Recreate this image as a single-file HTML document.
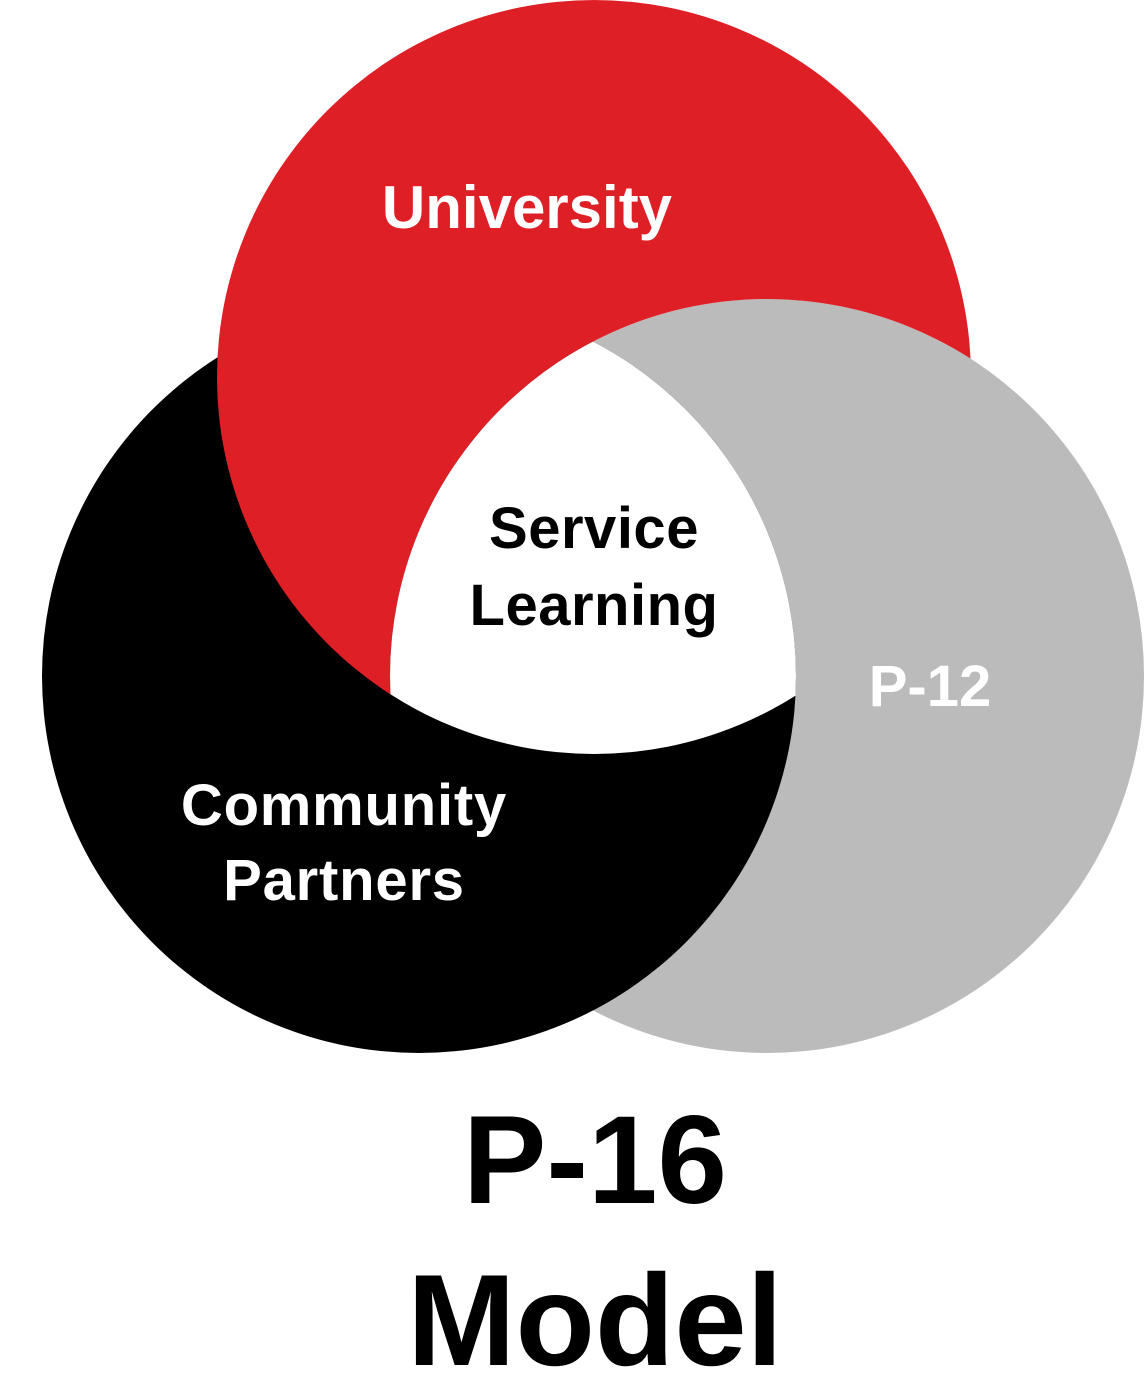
<!DOCTYPE html>
<html><head><meta charset="utf-8"><style>
html,body{margin:0;padding:0;background:#fff;}
svg{display:block;}
text{font-family:"Liberation Sans",sans-serif;font-weight:bold;}
</style></head><body>
<svg width="1144" height="1400" viewBox="0 0 1144 1400" xmlns="http://www.w3.org/2000/svg">
<defs>
<mask id="noGray"><rect width="1144" height="1400" fill="#fff"/><circle cx="767" cy="676" r="377" fill="#000"/></mask>
<clipPath id="cGray"><circle cx="767" cy="676" r="377"/></clipPath>
<clipPath id="cBlack"><circle cx="419" cy="676" r="377"/></clipPath>
</defs>
<circle cx="767" cy="676" r="377" fill="#bbbbbb"/>
<circle cx="419" cy="676" r="377" fill="#000"/>
<circle cx="594" cy="377" r="377" fill="#df1f26" mask="url(#noGray)"/>
<g clip-path="url(#cGray)"><g clip-path="url(#cBlack)"><circle cx="594" cy="377" r="377" fill="#fff"/></g></g>
<text x="527" y="228" font-size="60" fill="#fff" text-anchor="middle">University</text>
<text x="594" y="548" font-size="58" fill="#000" text-anchor="middle" letter-spacing="0.5">Service</text>
<text x="594" y="625" font-size="58" fill="#000" text-anchor="middle" letter-spacing="0.5">Learning</text>
<text x="930" y="706" font-size="58" fill="#fff" text-anchor="middle">P-12</text>
<text x="344" y="825" font-size="58" fill="#fff" text-anchor="middle" letter-spacing="0.8">Community</text>
<text x="344" y="900" font-size="58" fill="#fff" text-anchor="middle" letter-spacing="0.8">Partners</text>
<text x="595" y="1203" font-size="125" fill="#000" text-anchor="middle">P-16</text>
<text x="595" y="1365" font-size="130" fill="#000" text-anchor="middle">Model</text>
</svg>
</body></html>
